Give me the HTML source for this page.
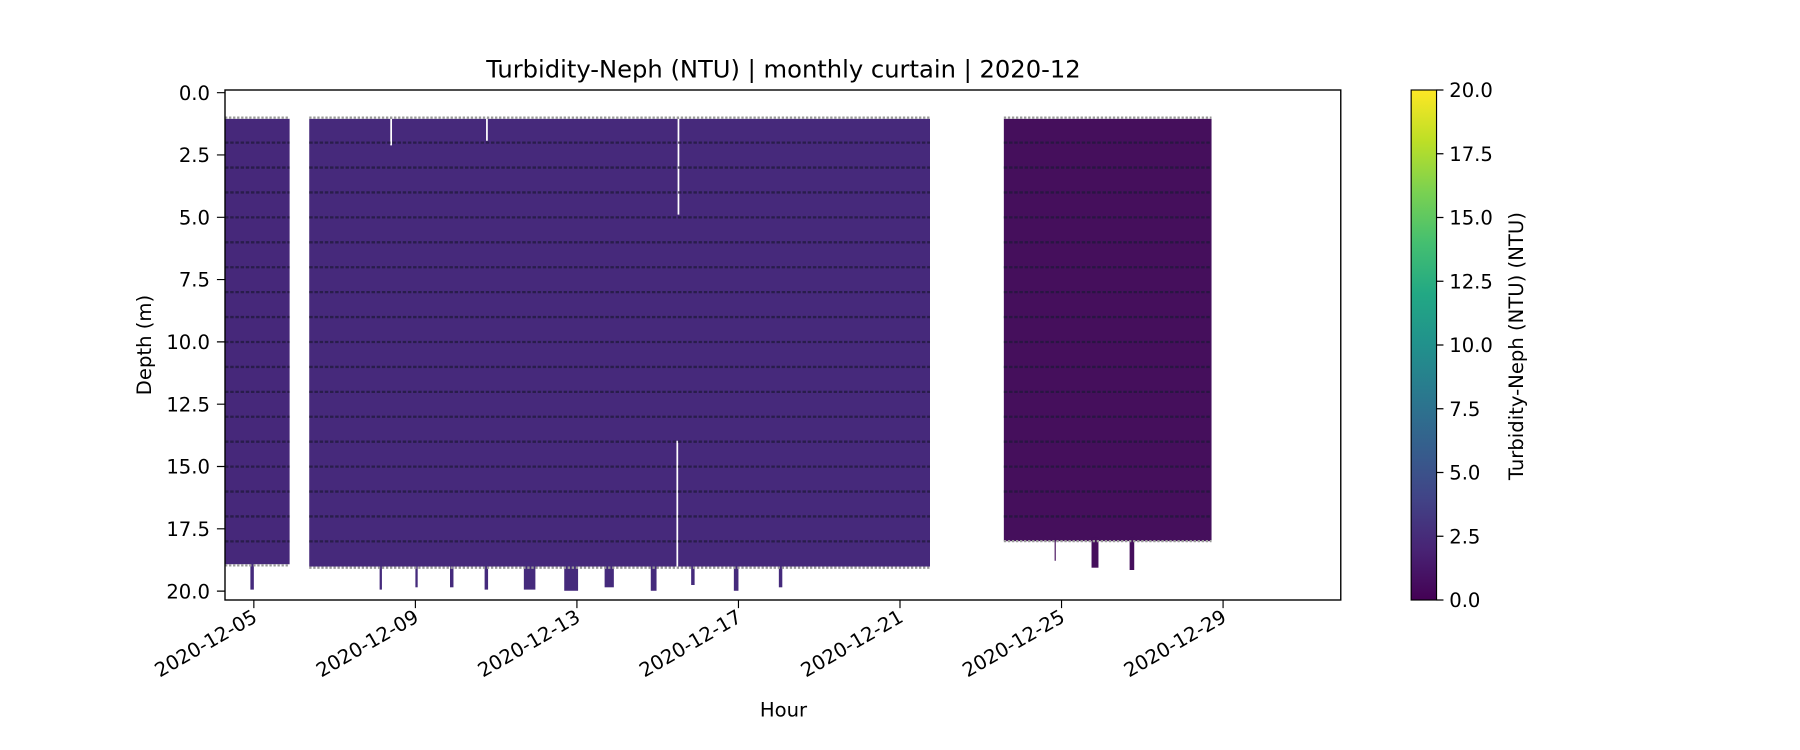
<!DOCTYPE html>
<html><head><meta charset="utf-8"><style>html,body{margin:0;padding:0;background:#fff}svg{display:block}</style></head>
<body>
<svg width="1800" height="750" viewBox="0 0 1560 650" xmlns="http://www.w3.org/2000/svg" font-family="DejaVu Sans, Liberation Sans, sans-serif">
<defs>
<linearGradient id="vir" x1="0" y1="1" x2="0" y2="0">
<stop offset="0" stop-color="#440154"/><stop offset="0.1" stop-color="#482475"/><stop offset="0.2" stop-color="#414487"/><stop offset="0.3" stop-color="#355f8d"/><stop offset="0.4" stop-color="#2a788e"/><stop offset="0.5" stop-color="#21918c"/><stop offset="0.6" stop-color="#22a884"/><stop offset="0.7" stop-color="#44bf70"/><stop offset="0.8" stop-color="#7ad151"/><stop offset="0.9" stop-color="#bddf26"/><stop offset="1" stop-color="#fde725"/>
</linearGradient>
</defs>
<rect width="1560" height="650" fill="#fff"/>
<text x="679" y="67" font-size="21" text-anchor="middle">Turbidity-Neph (NTU) | monthly curtain | 2020-12</text>
<rect x="195" y="103" width="56" height="386" fill="#46287a"/>
<rect x="268" y="103" width="538" height="388" fill="#46297b"/>
<rect x="870" y="103" width="180" height="366" fill="#450f5c"/>
<g stroke="#fff" stroke-width="1.5"><line x1="339" y1="103" x2="339" y2="126"/><line x1="422" y1="103" x2="422" y2="122"/><line x1="588" y1="103" x2="588" y2="186"/><line x1="587" y1="382" x2="587" y2="491"/></g>
<g fill="#452a7c">
<rect x="217" y="487" width="3" height="24"/><rect x="329" y="487" width="2" height="24"/><rect x="360" y="487" width="2" height="22"/><rect x="390" y="487" width="3" height="22"/><rect x="420" y="487" width="3" height="24"/><rect x="454" y="487" width="10" height="24"/><rect x="489" y="487" width="12" height="25"/><rect x="524" y="487" width="8" height="22"/><rect x="564" y="487" width="5" height="25"/><rect x="599" y="487" width="3" height="20"/><rect x="636" y="487" width="4" height="25"/><rect x="675" y="487" width="3" height="22"/>
</g>
<g fill="#450f5c"><rect x="946" y="466" width="6" height="26"/><rect x="979" y="466" width="4" height="28"/><rect x="914" y="466" width="1" height="20"/></g>
<g stroke="#1e1838" stroke-width="2" stroke-dasharray="3 1.5" opacity="0.7" transform="translate(0,-1.6)">
<path d="M195 125.2H251M268 125.2H806M870 125.2H1050M195 146.8H251M268 146.8H806M870 146.8H1050M195 168.4H251M268 168.4H806M870 168.4H1050M195 190H251M268 190H806M870 190H1050M195 211.6H251M268 211.6H806M870 211.6H1050M195 233.2H251M268 233.2H806M870 233.2H1050M195 254.8H251M268 254.8H806M870 254.8H1050M195 276.4H251M268 276.4H806M870 276.4H1050M195 298H251M268 298H806M870 298H1050M195 319.6H251M268 319.6H806M870 319.6H1050M195 341.2H251M268 341.2H806M870 341.2H1050M195 362.8H251M268 362.8H806M870 362.8H1050M195 384.4H251M268 384.4H806M870 384.4H1050M195 406H251M268 406H806M870 406H1050M195 427.6H251M268 427.6H806M870 427.6H1050M195 449.2H251M268 449.2H806M870 449.2H1050M195 470.8H251M268 470.8H806"/>
</g>
<g stroke="#999" stroke-width="2" stroke-dasharray="2 1.5"><path d="M195 102H251M268 102H806M870 102H1050M195 490H251M268 492H806M870 469H1050"/></g>
<rect x="195" y="78" width="967" height="442" fill="none" stroke="#000" stroke-width="1.2"/>
<g stroke="#000" stroke-width="1">
<path d="M195 80.3h-7M195 134.3h-7M195 188.3h-7M195 242.3h-7M195 296.3h-7M195 350.3h-7M195 404.3h-7M195 458.3h-7M195 512.3h-7"/>
<path d="M220 520v7M360 520v7M500 520v7M640 520v7M780 520v7M920 520v7M1060 520v7"/>
</g>
<g font-size="17" text-anchor="end">
<text x="182" y="86.5">0.0</text><text x="182" y="140.5">2.5</text><text x="182" y="194.5">5.0</text><text x="182" y="248.5">7.5</text><text x="182" y="302.5">10.0</text><text x="182" y="356.5">12.5</text><text x="182" y="410.5">15.0</text><text x="182" y="464.5">17.5</text><text x="182" y="518.5">20.0</text>
</g>
<g font-size="17" text-anchor="end">
<text transform="translate(224,538) rotate(-30)">2020-12-05</text>
<text transform="translate(364,538) rotate(-30)">2020-12-09</text>
<text transform="translate(504,538) rotate(-30)">2020-12-13</text>
<text transform="translate(644,538) rotate(-30)">2020-12-17</text>
<text transform="translate(784,538) rotate(-30)">2020-12-21</text>
<text transform="translate(924,538) rotate(-30)">2020-12-25</text>
<text transform="translate(1064,538) rotate(-30)">2020-12-29</text>
</g>
<text x="679" y="621" font-size="17" text-anchor="middle">Hour</text>
<text transform="translate(131,299) rotate(-90)" font-size="17" text-anchor="middle">Depth (m)</text>
<rect x="1223" y="78" width="22" height="442" fill="url(#vir)" stroke="#000" stroke-width="1"/>
<g stroke="#000"><path d="M1245 78h6M1245 133.25h6M1245 188.5h6M1245 243.75h6M1245 299h6M1245 354.25h6M1245 409.5h6M1245 464.75h6M1245 520h6"/></g>
<g font-size="17">
<text x="1256" y="84">20.0</text><text x="1256" y="139.5">17.5</text><text x="1256" y="194.5">15.0</text><text x="1256" y="250">12.5</text><text x="1256" y="305">10.0</text><text x="1256" y="360.5">7.5</text><text x="1256" y="415.5">5.0</text><text x="1256" y="471">2.5</text><text x="1256" y="526">0.0</text>
</g>
<text transform="translate(1320,300) rotate(-90)" font-size="17" text-anchor="middle">Turbidity-Neph (NTU) (NTU)</text>
</svg>
</body></html>
